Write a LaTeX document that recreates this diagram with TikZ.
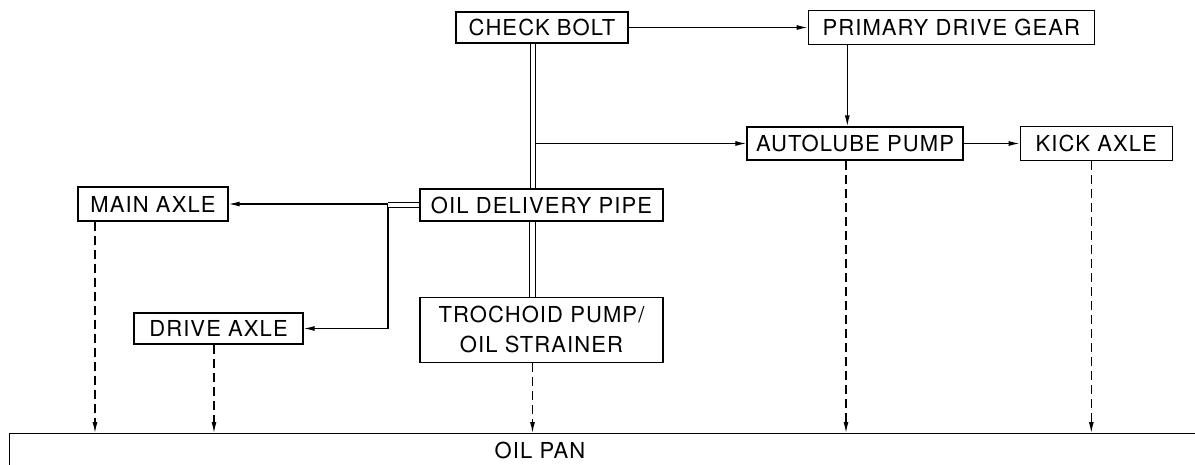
\documentclass[tikz,border=0pt]{standalone}
\usepackage{fontspec}
\setmainfont{TeX Gyre Heros}[LetterSpace=5]
\usetikzlibrary{arrows.meta,positioning}

\begin{document}
\begin{tikzpicture}[
    x=1pt, y=-1pt,
    box/.style={rectangle, draw, line width=1.3pt, minimum height=33pt, inner sep=2pt, align=center, font=\fontsize{22}{30}\selectfont},
    arrow/.style={-{Latex[length=11pt,width=5pt]}, line width=1.2pt},
    dasharrow/.style={arrow, dash pattern=on 9pt off 5pt},
    pipe/.style={double, double distance=4.5pt, line width=1.1pt}
]
\useasboundingbox (0,0) rectangle (1195,464);

\node[box, minimum width=172pt, minimum height=31pt] (bolt) at (542,27.5) {CHECK BOLT};
\node[box, minimum width=286pt, minimum height=34pt, right=179pt of bolt] (gear) {PRIMARY DRIVE GEAR};
\node[box, minimum width=216pt] (autolube) at (855,143.5) {AUTOLUBE PUMP};
\node[box, minimum width=152pt, minimum height=34pt, right=56pt of autolube] (kick) {KICK AXLE};
\node[box, minimum width=243pt, minimum height=32pt] (delivery) at (541.5,205) {OIL DELIVERY PIPE};
\node[box, minimum width=243pt, minimum height=65pt, below=75pt of delivery] (trochoid) {TROCHOID PUMP/\\OIL STRAINER};
\node[box, minimum width=150pt, minimum height=34pt] (main) at (153,204) {MAIN AXLE};
\node[box, minimum width=169pt, minimum height=31pt] (drive) at (218.5,328.5) {DRIVE AXLE};
\node[draw, line width=1.3pt, minimum width=1230pt, minimum height=80pt, anchor=north west, inner sep=0pt] (pan) at (9,433) {};
\node[font=\fontsize{22}{26}\selectfont] (pantext) at (540,450) {OIL PAN};
\coordinate (split) at (388,204);

\draw[arrow] (bolt.east) -- (gear.west);
\draw[arrow] ([xshift=-104pt]gear.south) -- ([xshift=-104pt]gear.south |- autolube.north);
\draw[arrow] ([xshift=-9pt]bolt.south |- autolube.west) -- (autolube.west);
\draw[arrow] (autolube.east) -- (autolube.east -| kick.west);
\draw[arrow] (split) -- (main.east);
\draw[arrow] (split) |- (drive.east);
\draw[pipe] ([xshift=-9pt]bolt.south) -- ([xshift=-9pt]bolt.south |- delivery.north);
\draw[pipe] ([xshift=-9pt]delivery.south) -- ([xshift=-9pt]delivery.south |- trochoid.north);
\draw[pipe] (delivery.west) -- (delivery.west -| split);

\draw[dasharrow] ([xshift=-58pt]main.south) -- ([xshift=-58pt]main.south |- pan.north);
\draw[dasharrow] ([xshift=-4.5pt]drive.south) -- ([xshift=-4.5pt]drive.south |- pan.north);
\draw[dasharrow] ([xshift=-9pt]trochoid.south) -- ([xshift=-9pt]trochoid.south |- pan.north);
\draw[dasharrow] ([xshift=-9pt]autolube.south) -- ([xshift=-9pt]autolube.south |- pan.north);
\draw[dasharrow] ([xshift=-5pt]kick.south) -- ([xshift=-5pt]kick.south |- pan.north);
\end{tikzpicture}
\end{document}
